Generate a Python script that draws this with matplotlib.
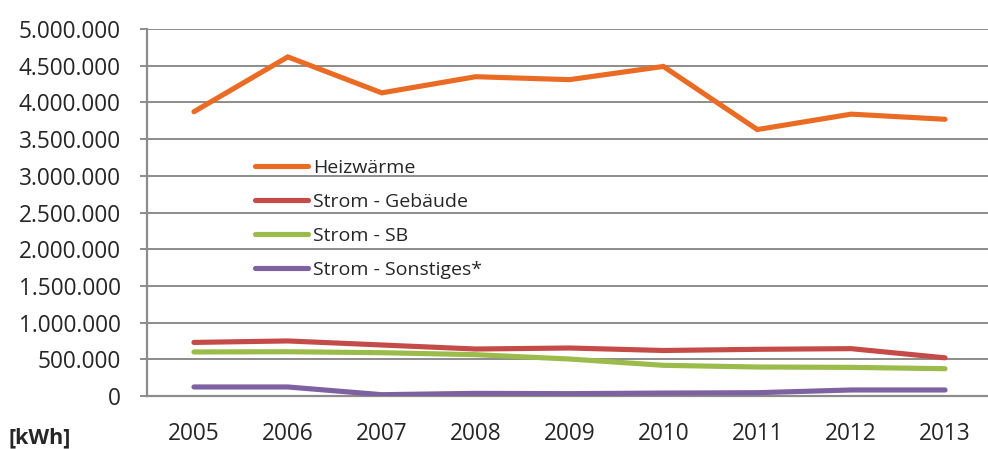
import matplotlib.pyplot as plt
from matplotlib.ticker import FuncFormatter, MultipleLocator

plt.rcParams['font.family'] = ['Open Sans', 'DejaVu Sans']

years = ['2005', '2006', '2007', '2008', '2009', '2010', '2011', '2012', '2013']
heizwaerme = [3873000, 4620000, 4130000, 4350000, 4310000, 4490000, 3630000, 3840000, 3770000]
strom_gebaeude = [730000, 750000, 695000, 640000, 654000, 620000, 636000, 645000, 520000]
strom_sb = [600000, 603000, 590000, 563000, 504000, 418000, 395000, 390000, 372000]
strom_sonst = [123000, 123000, 18000, 36000, 32000, 40000, 45000, 82000, 82000]

series = [
    ('Heizwärme', heizwaerme, '#EA6C24'),
    ('Strom - Gebäude', strom_gebaeude, '#C44B47'),
    ('Strom - SB', strom_sb, '#9BBB4A'),
    ('Strom - Sonstiges*', strom_sonst, '#7D61A0'),
]

fig = plt.figure(figsize=(9.88, 4.49), dpi=100)
ax = fig.add_axes([147/988, 1 - 396/449, 845/988, 367/449])

x = range(len(years))
for name, vals, col in series:
    ax.plot(x, vals, color=col, lw=3.7, label=name, solid_capstyle='round',
            solid_joinstyle='miter', zorder=3)

ax.set_xlim(-0.5, 8.5)
ax.set_ylim(0, 5000000)
ax.yaxis.set_major_locator(MultipleLocator(500000))
ax.yaxis.set_major_formatter(FuncFormatter(lambda v, p: f"{int(v):,}".replace(',', '.')))
ax.set_xticks(list(x))
ax.set_xticklabels(years)

ax.grid(axis='y', color='#8c8c8c', lw=1.4, zorder=1)
ax.set_axisbelow(True)
for s in ['top', 'right']:
    ax.spines[s].set_visible(False)
for s in ['left', 'bottom']:
    ax.spines[s].set_color('#8c8c8c')
    ax.spines[s].set_linewidth(1.6)

ax.tick_params(axis='y', length=5, width=1.4, color='#8c8c8c', pad=14,
               labelsize=16.3, labelcolor='#262626')
ax.tick_params(axis='x', length=0, pad=19, labelsize=16.3, labelcolor='#262626')

leg = ax.legend(loc='upper left', bbox_to_anchor=(255/988, 1 - 159/449),
                bbox_transform=fig.transFigure, frameon=False, fontsize=14,
                handlelength=2.75, handletextpad=0.25, labelspacing=0.82,
                borderpad=0, borderaxespad=0)
for t in leg.get_texts():
    t.set_color('#262626')

fig.text(9/988, 1 - 438/449, '[kWh]', fontsize=15.5, fontweight='bold',
         va='center', ha='left', color='#262626')

fig.savefig('out.png', dpi=100)
